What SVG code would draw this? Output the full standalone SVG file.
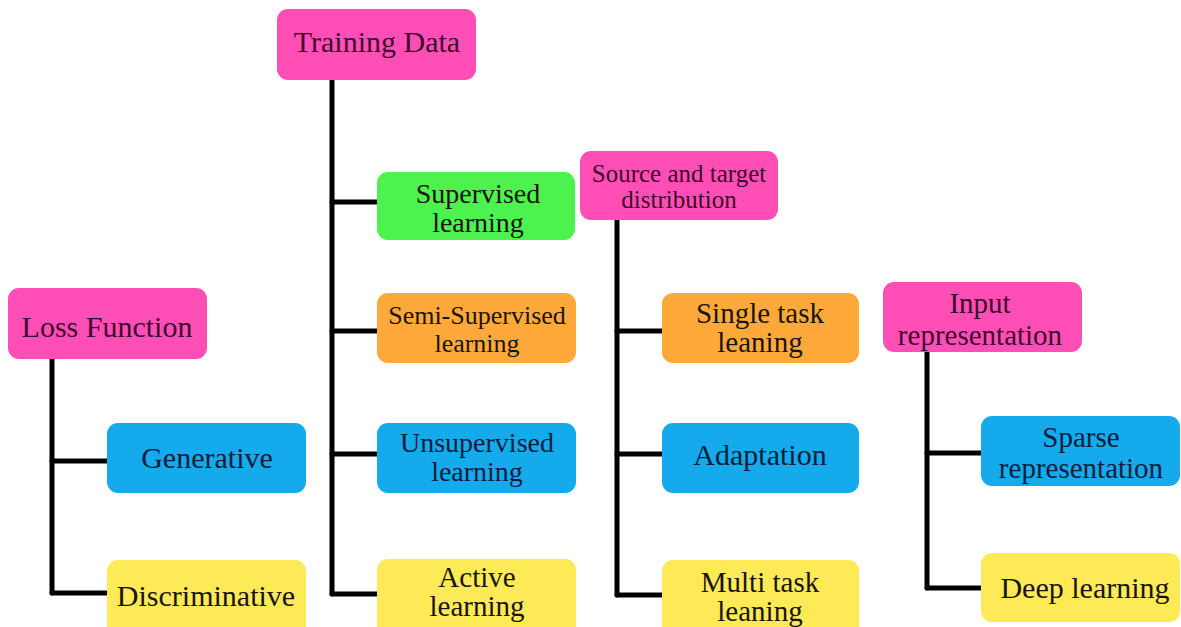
<svg xmlns="http://www.w3.org/2000/svg" width="1181" height="627" viewBox="0 0 1181 627">
  <style>
    .box { stroke: none; }
    .pink { fill: #ff4fb6; }
    .green { fill: #4ef24e; }
    .orange { fill: #ffa93a; }
    .blue { fill: #14aaec; }
    .yellow { fill: #feea57; }
    text { font-family: "Liberation Serif", "Times New Roman", Times, "DejaVu Serif", serif; font-size: 29px; text-anchor: middle; fill: #1a1410; }
    .two { font-size: 28px; }
    .on-pink { fill: #40082c; }
    .on-blue { fill: #0c1c3c; }
    .links line { stroke: #000; stroke-width: 5; stroke-linecap: round; }
  </style>
  <rect width="1181" height="627" fill="#ffffff"/>

  <!-- connectors -->
  <g class="links">
    <!-- Loss Function -->
    <line x1="52" y1="359" x2="52" y2="593"/>
    <line x1="52" y1="461" x2="107" y2="461"/>
    <line x1="52" y1="593" x2="107" y2="593"/>
    <!-- Training Data -->
    <line x1="332" y1="80" x2="332" y2="594"/>
    <line x1="332" y1="202" x2="377" y2="202"/>
    <line x1="332" y1="331" x2="377" y2="331"/>
    <line x1="332" y1="454" x2="377" y2="454"/>
    <line x1="332" y1="594" x2="377" y2="594"/>
    <!-- Source and target distribution -->
    <line x1="617" y1="220" x2="617" y2="595"/>
    <line x1="617" y1="331" x2="662" y2="331"/>
    <line x1="617" y1="454" x2="662" y2="454"/>
    <line x1="617" y1="595" x2="662" y2="595"/>
    <!-- Input representation -->
    <line x1="927" y1="352" x2="927" y2="588"/>
    <line x1="927" y1="453" x2="981" y2="453"/>
    <line x1="927" y1="588" x2="981" y2="588"/>
  </g>

  <!-- Loss Function branch -->
  <g id="loss-function">
    <rect class="box pink" x="8" y="288" width="199" height="71" rx="11"/>
    <text class="on-pink" x="107" y="337" style="font-size:30px">Loss Function</text>
  </g>
  <g id="generative">
    <rect class="box blue" x="107" y="423" width="199" height="70" rx="11"/>
    <text class="on-blue" x="207" y="468" style="font-size:30px">Generative</text>
  </g>
  <g id="discriminative">
    <rect class="box yellow" x="107" y="560" width="199" height="80" rx="11"/>
    <text x="206" y="606" style="font-size:30px">Discriminative</text>
  </g>

  <!-- Training Data branch -->
  <g id="training-data">
    <rect class="box pink" x="277" y="9" width="199" height="71" rx="11"/>
    <text class="on-pink" x="377" y="52" style="font-size:30px">Training Data</text>
  </g>
  <g id="supervised">
    <rect class="box green" x="377" y="172" width="198" height="68" rx="11"/>
    <text class="two" x="478" y="203">Supervised</text>
    <text class="two" x="478" y="232">learning</text>
  </g>
  <g id="semi-supervised">
    <rect class="box orange" x="377" y="293" width="199" height="70" rx="11"/>
    <text x="477" y="324" style="font-size:26px">Semi-Supervised</text>
    <text x="477" y="352" style="font-size:26px">learning</text>
  </g>
  <g id="unsupervised">
    <rect class="box blue" x="377" y="423" width="199" height="70" rx="11"/>
    <text class="on-blue two" x="477" y="452">Unsupervised</text>
    <text class="on-blue two" x="477" y="481">learning</text>
  </g>
  <g id="active">
    <rect class="box yellow" x="377" y="559" width="199" height="80" rx="11"/>
    <text x="477" y="587">Active</text>
    <text x="477" y="616">learning</text>
  </g>

  <!-- Source and target distribution branch -->
  <g id="source-target">
    <rect class="box pink" x="580" y="151" width="198" height="69" rx="11"/>
    <text class="on-pink" x="679" y="182" style="font-size:25px">Source and target</text>
    <text class="on-pink" x="679" y="208" style="font-size:25px">distribution</text>
  </g>
  <g id="single-task">
    <rect class="box orange" x="662" y="293" width="197" height="70" rx="11"/>
    <text x="760" y="323">Single task</text>
    <text x="760" y="352">leaning</text>
  </g>
  <g id="adaptation">
    <rect class="box blue" x="662" y="423" width="197" height="70" rx="11"/>
    <text class="on-blue" x="760" y="465" style="font-size:30px">Adaptation</text>
  </g>
  <g id="multi-task">
    <rect class="box yellow" x="662" y="560" width="197" height="80" rx="11"/>
    <text x="760" y="592">Multi task</text>
    <text x="760" y="621">leaning</text>
  </g>

  <!-- Input representation branch -->
  <g id="input-representation">
    <rect class="box pink" x="883" y="282" width="199" height="70" rx="11"/>
    <text class="on-pink" x="980" y="313">Input</text>
    <text class="on-pink" x="980" y="345">representation</text>
  </g>
  <g id="sparse-representation">
    <rect class="box blue" x="981" y="416" width="199" height="70" rx="11"/>
    <text class="on-blue" x="1081" y="447">Sparse</text>
    <text class="on-blue" x="1081" y="478">representation</text>
  </g>
  <g id="deep-learning">
    <rect class="box yellow" x="981" y="553" width="199" height="69" rx="11"/>
    <text x="1085" y="598" style="font-size:30px">Deep learning</text>
  </g>
</svg>
